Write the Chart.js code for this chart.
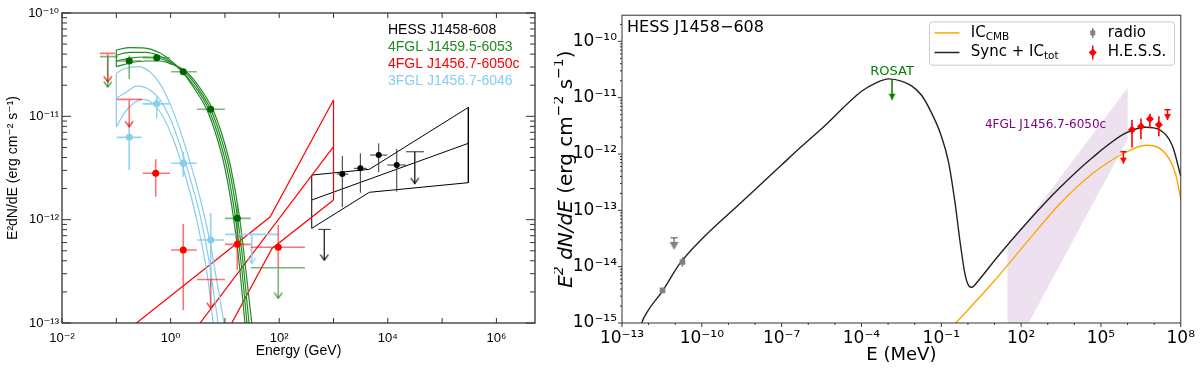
<!DOCTYPE html>
<html>
<head>
<meta charset="utf-8">
<script src="https://cdn.jsdelivr.net/npm/chart.js@4.4.1/dist/chart.umd.min.js"></script>
<style>
html,body{margin:0;padding:0;background:#fff;}
#wrap{position:relative;width:1200px;height:368px;overflow:hidden;}
#leftBox{position:absolute;left:0;top:0;width:554px;height:368px;}
#rightBox{position:absolute;left:554px;top:0;width:646px;height:368px;}
</style>
</head>
<body>
<div id="wrap">
  <div id="leftBox"><canvas id="fermiChart"></canvas></div>
  <div id="rightBox"><canvas id="modelChart"></canvas></div>
</div>
<script>

// ------------------------------
// Left panel data (E in GeV, E^2 dN/dE in erg cm^-2 s^-1)
// ------------------------------

const fermiEnergyTicks = [1e-2, 1e-1, 1e0, 1e1, 1e2, 1e3, 1e4, 1e5, 1e6];
const fermiFluxTicks = [1e-13, 1e-12, 1e-11, 1e-10];

// 4FGL J1459.5-6053 (green)
const g4E   = [0.173, 0.555, 1.71, 5.48, 16.9];
const g4F   = [3.43e-11, 3.69e-11, 2.70e-11, 1.17e-11, 1.03e-12];
const g4Elo = [0.103, 0.306, 1.02, 3.06, 10.0];
const g4Ehi = [0.285, 0.975, 3.03, 10.0, 29.9];
const g4Flo = [2.30e-11, 3.55e-11, 2.60e-11, 1.12e-11, 6.82e-13];
const g4Fhi = [3.88e-11, 3.83e-11, 2.80e-11, 1.22e-11, 1.42e-12];
const g4UlE   = [0.0695, 96];
const g4UlElo = [0.050, 29.9];
const g4UlEhi = [0.107, 298];
const g4UlF   = [3.78e-11, 3.42e-13];
const g4UlTip = [1.92e-11, 1.74e-13];

const g4CurveE1 = [0.1, 0.179, 0.338, 0.638, 0.975, 1.49, 2.70, 4.68, 7.16, 10.0, 14.1, 18.2, 23.4, 24.5];
const g4CurveF1 = [4.39e-11, 4.63e-11, 4.58e-11, 4.10e-11, 3.51e-11, 2.87e-11, 1.88e-11, 1.15e-11, 6.17e-12, 3.16e-12, 1.13e-12, 3.89e-13, 1.0e-13, 8e-14];
const g4CurveE2 = [0.1, 0.179, 0.338, 0.638, 0.975, 1.62, 2.94, 5.09, 7.78, 10.9, 15.3, 19.8, 25.5, 26.6];
const g4CurveF2 = [3.92e-11, 4.15e-11, 4.15e-11, 3.84e-11, 3.39e-11, 2.72e-11, 1.88e-11, 1.15e-11, 6.17e-12, 3.16e-12, 1.13e-12, 3.89e-13, 1.0e-13, 8e-14];
const g4CurveE3 = [0.1, 0.179, 0.338, 0.638, 0.975, 1.77, 3.20, 5.55, 8.47, 11.9, 16.7, 21.5, 27.8, 29.0];
const g4CurveF3 = [3.43e-11, 3.66e-11, 3.75e-11, 3.63e-11, 3.32e-11, 2.72e-11, 1.88e-11, 1.15e-11, 6.17e-12, 3.16e-12, 1.13e-12, 3.89e-13, 1.0e-13, 8e-14];
const g4CurveE4 = [0.1, 0.179, 0.338, 0.638, 0.975, 1.92, 3.48, 6.04, 9.23, 12.9, 18.2, 23.4, 31.2, 32.5];
const g4CurveF4 = [3.02e-11, 3.28e-11, 3.43e-11, 3.43e-11, 3.24e-11, 2.72e-11, 1.88e-11, 1.15e-11, 6.17e-12, 3.16e-12, 1.13e-12, 3.89e-13, 1.0e-13, 8e-14];

// 3FGL J1456.7-6046 (light blue)
const b3E   = [0.173, 0.555, 1.71, 5.48];
const b3F   = [6.26e-12, 1.32e-11, 3.51e-12, 6.35e-13];
const b3Elo = [0.102, 0.306, 1.02, 3.09];
const b3Ehi = [0.294, 0.975, 3.03, 9.62];
const b3Flo = [3.02e-12, 9.6e-12, 2.60e-12, 2.23e-13];
const b3Fhi = [8.81e-12, 1.55e-11, 4.54e-12, 1.16e-12];
const b3UlE   = [31.2];
const b3UlElo = [10.0];
const b3UlEhi = [96];
const b3UlF   = [7.21e-13];
const b3UlTip = [3.78e-13];

const b3CurveE1 = [0.1, 0.1445, 0.251, 0.418, 0.638, 0.975, 1.49, 2.28, 3.48, 5.32, 7.46, 9.62, 10.3];
const b3CurveF1 = [2.61e-11, 2.90e-11, 3.03e-11, 2.69e-11, 2.06e-11, 1.32e-11, 7.36e-12, 3.61e-12, 1.62e-12, 6.07e-13, 2.18e-13, 1.0e-13, 7.98e-14];
const b3CurveE2 = [0.1, 0.1445, 0.240, 0.418, 0.638, 0.975, 1.49, 2.28, 3.48, 4.89, 6.30, 7.46, 7.78];
const b3CurveF2 = [1.50e-11, 1.68e-11, 1.96e-11, 1.80e-11, 1.44e-11, 9.64e-12, 5.27e-12, 2.53e-12, 1.11e-12, 4.54e-13, 1.86e-13, 1.0e-13, 7.98e-14];
const b3CurveE3 = [0.1, 0.1445, 0.221, 0.310, 0.454, 0.695, 1.06, 1.62, 2.48, 3.63, 4.89, 6.04, 6.30];
const b3CurveF3 = [7.93e-12, 1.10e-11, 1.37e-11, 1.46e-11, 1.35e-11, 1.03e-11, 6.44e-12, 3.38e-12, 1.55e-12, 6.35e-13, 2.60e-13, 1.0e-13, 7.98e-14];

// 4FGL J1456.7-6050c (red)
const r4E   = [0.532, 1.71, 16.9, 96];
const r4F   = [2.81e-12, 5.08e-13, 5.77e-13, 5.40e-13];
const r4Elo = [0.306, 1.02, 10.0, 29.9];
const r4Ehi = [0.975, 3.03, 29.9, 298];
const r4Flo = [1.67e-12, 1.33e-13, 3.25e-13, 3.40e-13];
const r4Fhi = [3.84e-12, 9.06e-13, 7.59e-13, 8.87e-13];
const r4UlE   = [0.0695, 0.173, 5.48];
const r4UlElo = [0.050, 0.102, 3.06];
const r4UlEhi = [0.0946, 0.294, 10.0];
const r4UlF   = [4.07e-11, 1.46e-11, 2.64e-13];
const r4UlTip = [2.16e-11, 7.93e-12, 1.39e-13];

const r4BowUpE  = [0.1, 67.8, 1000];
const r4BowUpF  = [7.0e-14, 1.06e-12, 1.44e-11];
const r4BowMidE = [2.81, 1000];
const r4BowMidF = [8.6e-14, 5.08e-12];
const r4BowLoE  = [11.4, 73.6, 1000];
const r4BowLoF  = [8.55e-14, 5.27e-13, 1.55e-12];

// HESS J1458-608 (black)
const hessE   = [1452, 3119, 6792, 14590];
const hessF   = [2.76e-12, 3.14e-12, 4.22e-12, 3.38e-12];
const hessElo = [1146, 2388, 4699, 9795];
const hessEhi = [1875, 4083, 9795, 21630];
const hessFlo = [1.32e-12, 1.82e-12, 2.87e-12, 1.86e-12];
const hessFhi = [4.13e-12, 4.39e-12, 5.48e-12, 4.82e-12];
const hessUlE   = [678, 31260];
const hessUlElo = [525, 21630];
const hessUlEhi = [887, 46450];
const hessUlF   = [8.05e-13, 4.54e-12];
const hessUlTip = [4.06e-13, 2.24e-12];

const hessBowE    = [397, 4560, 304000];
const hessBowUpF  = [2.70e-12, 3.07e-12, 1.22e-11];
const hessBowLoF  = [8.24e-13, 1.84e-12, 2.28e-12];
const hessBowMidE = [397, 304000];
const hessBowMidF = [1.55e-12, 5.48e-12];

// ------------------------------
// Right panel data (E in MeV)
// ------------------------------

const modelEnergyTicks = [];
for (let e = -13; e <= 8; e++) modelEnergyTicks.push(Math.pow(10, e));
const modelFluxTicks = [1e-15, 1e-14, 1e-13, 1e-12, 1e-11, 1e-10];

const syncE = [4.32e-13, 5.46e-13, 9.64e-13, 3.33e-12, 1.48e-11, 9.59e-11, 3.01e-9, 9.44e-8, 5.66e-7, 3.40e-6, 1.01e-4, 3.38e-4, 1.06e-3, 3.34e-3, 7.91e-3, 1.87e-2, 4.43e-2, 9.12e-2, 0.187, 0.333, 0.512, 0.787, 1.11, 1.39, 2.47, 9.0, 158, 2818, 4.97e4, 8.73e5, 4.90e6, 1.55e7, 4.88e7, 1e8];
const syncF = [6.2e-16, 9.88e-16, 1.67e-15, 3.69e-15, 1.13e-14, 3.04e-14, 1.38e-13, 6.25e-13, 1.37e-12, 2.90e-12, 1.30e-11, 1.82e-11, 2.16e-11, 1.95e-11, 1.60e-11, 1.08e-11, 5.20e-12, 2.36e-12, 7.20e-13, 1.30e-13, 2.67e-14, 7.14e-15, 4.50e-15, 4.32e-15, 5.64e-15, 1.21e-14, 5.89e-14, 2.51e-13, 8.77e-13, 2.36e-12, 2.99e-12, 2.70e-12, 1.39e-12, 4.0e-13];

const icE = [0.187, 9.0, 158, 2818, 4.97e4, 6.56e5, 4.90e6, 2.74e7, 6.49e7, 1e8];
const icF = [7.3e-16, 5.33e-15, 2.67e-14, 1.30e-13, 4.55e-13, 1.00e-12, 1.43e-12, 1.00e-12, 4.26e-13, 1.58e-13];

const bandE = [30.8, 1.01e6, 1.01e6, 111, 30.8];
const bandF = [2.19e-14, 1.50e-11, 1.82e-12, 6.2e-16, 6.2e-16];

const radioE   = [3.33e-12, 1.87e-11];
const radioF   = [3.79e-15, 1.21e-14];
const radioFlo = [3.79e-15, 9.93e-15];
const radioFhi = [3.79e-15, 1.47e-14];
const radioUlE   = [9.06e-12];
const radioUlF   = [3.25e-14];
const radioUlTip = [2.34e-14];

const tevE   = [1.47e6, 3.18e6, 6.90e6, 1.50e7];
const tevF   = [2.70e-12, 3.08e-12, 4.17e-12, 3.29e-12];
const tevFlo = [1.30e-12, 1.82e-12, 2.88e-12, 2.07e-12];
const tevFhi = [4.01e-12, 4.28e-12, 5.20e-12, 4.70e-12];
const tevUlE   = [6.98e5, 3.17e7];
const tevUlF   = [1.10e-12, 6.10e-12];
const tevUlTip = [6.76e-13, 4.01e-12];

const rosatE   = [1.41e-3];
const rosatF   = [2.08e-11];
const rosatTip = [9.2e-12];

// ------------------------------
// Helpers
// ------------------------------

const SUP = {"-":"⁻","0":"⁰","1":"¹","2":"²","3":"³","4":"⁴","5":"⁵","6":"⁶","7":"⁷","8":"⁸","9":"⁹"};

function pow10Label(v){
    const e = Math.round(Math.log10(v));
    return "10" + String(e).split("").map(function(c){ return SUP[c]; }).join("");
}

function xy(E, F){
    return E.map(function(e, i){ return {x:e, y:F[i]}; });
}

function gap(){ return {x:NaN, y:NaN}; }

function errorSegments(E, F, Elo, Ehi, Flo, Fhi){
    const out = [];
    E.forEach(function(e, i){
        if(Elo){ out.push({x:Elo[i], y:F[i]}, {x:Ehi[i], y:F[i]}, gap()); }
        if(Flo){ out.push({x:e, y:Flo[i]}, {x:e, y:Fhi[i]}, gap()); }
    });
    return out;
}

function limitSegments(E, F, Elo, Ehi, Tip){
    const out = [];
    E.forEach(function(e, i){
        if(Elo){ out.push({x:Elo[i], y:F[i]}, {x:Ehi[i], y:F[i]}, gap()); }
        out.push({x:e, y:F[i]}, {x:e, y:Tip[i]}, gap());
    });
    return out;
}

// open "V" arrow head, tip at canvas centre
function openArrow(color){
    const c = document.createElement("canvas");
    c.width = 10; c.height = 14;
    const g = c.getContext("2d");
    g.strokeStyle = color; g.lineWidth = 1.2;
    g.beginPath(); g.moveTo(1, 1.5); g.lineTo(5, 7); g.lineTo(9, 1.5); g.stroke();
    return c;
}

// filled down arrow head, tip at canvas centre
function filledArrow(color, w, h, centred){
    const c = document.createElement("canvas");
    c.width = w + 2; c.height = 2 * h + 2;
    const g = c.getContext("2d");
    g.fillStyle = color;
    const top = centred ? h / 2 + 1 : 1;
    g.beginPath(); g.moveTo(1, top); g.lineTo(w + 1, top); g.lineTo(w / 2 + 1, top + h); g.closePath(); g.fill();
    return c;
}

function lineSet(data, color, width, smooth){
    return {
        data: data, showLine: true, borderColor: color, borderWidth: width,
        pointRadius: 0, spanGaps: false,
        tension: smooth ? 0.4 : 0,
        cubicInterpolationMode: smooth ? "monotone" : "default"
    };
}

function markerSet(data, color, style, radius){
    return {
        data: data, showLine: false, pointStyle: style, pointRadius: radius,
        backgroundColor: color, borderColor: color, borderWidth: 0
    };
}

function imageSet(data, img){
    return { data: data, showLine: false, pointStyle: img, pointRadius: 5 };
}

const SANS = "'Liberation Sans', Arial, 'DejaVu Sans', sans-serif";
const DEJA = "'DejaVu Sans', sans-serif";

const GREEN = "#228b22";
const GREEN_DOT = "#006400";
const GREEN_BAR = "rgba(34,139,34,0.6)";
const RED = "#ff0000";
const RED_BAR = "rgba(255,0,0,0.55)";
const SKY = "#87ceeb";
const SKY_BAR = "rgba(135,206,235,0.9)";

// ------------------------------
// Left panel: frame, inside ticks, legend
// ------------------------------

const fermiFrame = {
    id: "fermiFrame",
    afterDraw: function(chart){
        const ctx = chart.ctx, ca = chart.chartArea;
        const xs = chart.scales.x, ys = chart.scales.y;
        ctx.save();
        ctx.strokeStyle = "#333"; ctx.lineWidth = 1.3;
        ctx.strokeRect(ca.left, ca.top, ca.right - ca.left, ca.bottom - ca.top);
        ctx.lineWidth = 1;
        ctx.beginPath();
        fermiEnergyTicks.forEach(function(v){
            const px = xs.getPixelForValue(v);
            ctx.moveTo(px, ca.bottom); ctx.lineTo(px, ca.bottom - 5);
            ctx.moveTo(px, ca.top); ctx.lineTo(px, ca.top + 5);
        });
        for(let e = -13; e <= -10; e++){
            for(let m = 1; m < 10; m++){
                const v = m * Math.pow(10, e);
                if(v > ys.max * 1.0001) continue;
                const py = ys.getPixelForValue(v);
                const len = m === 1 ? 9 : 5;
                ctx.moveTo(ca.left, py); ctx.lineTo(ca.left + len, py);
                ctx.moveTo(ca.right, py); ctx.lineTo(ca.right - len, py);
            }
        }
        ctx.stroke();

        const names = ["HESS J1458-608", "4FGL J1459.5-6053", "4FGL J1456.7-6050c", "3FGL J1456.7-6046"];
        const colors = ["#000000", GREEN, RED, SKY];
        ctx.font = "14px " + SANS;
        ctx.textAlign = "left"; ctx.textBaseline = "middle";
        names.forEach(function(n, i){
            ctx.fillStyle = colors[i];
            ctx.fillText(n, ca.left + 326, ca.top + 17 + i * 17.2);
        });
        ctx.restore();
    }
};

const arrowGreen = openArrow(GREEN);
const arrowRed = openArrow(RED);
const arrowSky = openArrow(SKY);
const arrowBlack = openArrow("#000");

const fermiDatasets = [
    // markers on top
    markerSet(xy(g4E, g4F), GREEN_DOT, "circle", 3.5),
    markerSet(xy(r4E, r4F), RED, "circle", 3.5),
    markerSet(xy(b3E, b3F), SKY, "circle", 3.5),
    markerSet(xy(hessE, hessF), "#000", "circle", 3),

    // upper limit heads
    imageSet(xy(g4UlE, g4UlTip), arrowGreen),
    imageSet(xy(r4UlE, r4UlTip), arrowRed),
    imageSet(xy(b3UlE, b3UlTip), arrowSky),
    imageSet(xy(hessUlE, hessUlTip), arrowBlack),

    // error bars and limits
    lineSet(errorSegments(g4E, g4F, g4Elo, g4Ehi, g4Flo, g4Fhi), GREEN_BAR, 1.6, false),
    lineSet(limitSegments(g4UlE, g4UlF, g4UlElo, g4UlEhi, g4UlTip), GREEN_BAR, 1.6, false),
    lineSet(errorSegments(r4E, r4F, r4Elo, r4Ehi, r4Flo, r4Fhi), RED_BAR, 1.6, false),
    lineSet(limitSegments(r4UlE, r4UlF, r4UlElo, r4UlEhi, r4UlTip), RED_BAR, 1.6, false),
    lineSet(errorSegments(b3E, b3F, b3Elo, b3Ehi, b3Flo, b3Fhi), SKY_BAR, 1.6, false),
    lineSet(limitSegments(b3UlE, b3UlF, b3UlElo, b3UlEhi, b3UlTip), SKY_BAR, 1.6, false),
    lineSet(errorSegments(hessE, hessF, hessElo, hessEhi, hessFlo, hessFhi), "#333", 1, false),
    lineSet(limitSegments(hessUlE, hessUlF, hessUlElo, hessUlEhi, hessUlTip), "#333", 1, false),

    // spectral models
    lineSet(xy(g4CurveE1, g4CurveF1), GREEN, 1.2, true),
    lineSet(xy(g4CurveE2, g4CurveF2), GREEN, 1.2, true),
    lineSet(xy(g4CurveE3, g4CurveF3), GREEN, 1.2, true),
    lineSet(xy(g4CurveE4, g4CurveF4), GREEN, 1.2, true),
    lineSet([{x:g4CurveE1[0], y:g4CurveF1[0]}, {x:g4CurveE4[0], y:g4CurveF4[0]}], GREEN, 1.2, false),

    lineSet(xy(b3CurveE1, b3CurveF1), SKY, 1.2, true),
    lineSet(xy(b3CurveE2, b3CurveF2), SKY, 1.2, true),
    lineSet(xy(b3CurveE3, b3CurveF3), SKY, 1.2, true),
    lineSet([{x:b3CurveE1[0], y:b3CurveF1[0]}, {x:b3CurveE3[0], y:b3CurveF3[0]}], SKY, 1.2, false),

    lineSet(xy(r4BowUpE, r4BowUpF), RED, 1.2, false),
    lineSet(xy(r4BowMidE, r4BowMidF), RED, 1.2, false),
    lineSet(xy(r4BowLoE, r4BowLoF), RED, 1.2, false),
    lineSet([{x:r4BowUpE[2], y:r4BowUpF[2]}, {x:r4BowLoE[2], y:r4BowLoF[2]}], RED, 1.2, false),

    lineSet(xy(hessBowE, hessBowUpF).concat(xy(hessBowE, hessBowLoF).reverse(), [{x:hessBowE[0], y:hessBowUpF[0]}]), "#000", 1, false),
    lineSet(xy(hessBowMidE, hessBowMidF), "#000", 1, false)
];

new Chart(document.getElementById("fermiChart"), {
    type: "scatter",
    data: { datasets: fermiDatasets },
    options: {
        responsive: true,
        maintainAspectRatio: false,
        animation: false,
        layout: { padding: { top: 13, right: 19, left: 0, bottom: 0 } },
        plugins: { legend: { display: false }, tooltip: { enabled: false } },
        scales: {
            x: {
                type: "logarithmic", min: 1e-2, max: 5.13e6, bounds: "data",
                afterBuildTicks: function(s){ s.ticks = fermiEnergyTicks.map(function(v){ return {value:v}; }); },
                afterFit: function(s){ s.height = 45; },
                grid: { display: false, drawTicks: false },
                border: { display: false },
                ticks: {
                    autoSkip: false, maxRotation: 0, minRotation: 0, padding: 8, color: "#000",
                    font: { family: SANS, size: 13 },
                    callback: function(v){
                        const e = Math.round(Math.log10(v));
                        return e % 2 === 0 ? pow10Label(v) : "";
                    }
                },
                title: { display: true, text: "Energy (GeV)", color: "#000",
                         font: { family: SANS, size: 14 }, padding: { top: 0, bottom: 8 } }
            },
            y: {
                type: "logarithmic", min: 1e-13, max: 1e-10, bounds: "data",
                afterBuildTicks: function(s){ s.ticks = fermiFluxTicks.map(function(v){ return {value:v}; }); },
                afterFit: function(s){ s.width = 62; },
                grid: { display: false, drawTicks: false },
                border: { display: false },
                ticks: {
                    autoSkip: false, padding: 3, color: "#000",
                    font: { family: SANS, size: 13 },
                    callback: function(v){ return pow10Label(v); }
                },
                title: { display: true, text: "E²dN/dE (erg cm⁻² s⁻¹)", color: "#000",
                         font: { family: SANS, size: 14 }, padding: { top: 5, bottom: 0 } }
            }
        }
    },
    plugins: [fermiFrame]
});

// ------------------------------
// Right panel: frame, outside ticks, legend and labels
// ------------------------------

function subText(ctx, x, y, main, sub, size){
    ctx.font = size + "px " + DEJA;
    ctx.fillText(main, x, y);
    const w = ctx.measureText(main).width;
    ctx.font = (size * 0.7) + "px " + DEJA;
    ctx.fillText(sub, x + w, y + size * 0.28);
}

// y axis title with math-style pieces: [text, italic, superscript]
const modelYTitle = [
    ["E", true, false], ["2", true, true], [" dN/dE", true, false],
    [" (erg cm", false, false], ["−2", false, true], [" s", false, false],
    ["−1", false, true], [")", false, false]
];

function drawYTitle(ctx, cx, cy, size){
    ctx.save();
    ctx.translate(cx, cy);
    ctx.rotate(-Math.PI / 2);
    ctx.textBaseline = "middle"; ctx.textAlign = "left";
    ctx.fillStyle = "#000";
    function fontFor(p){
        return (p[1] ? "italic " : "") + (p[2] ? size * 0.7 : size) + "px " + DEJA;
    }
    let total = 0;
    modelYTitle.forEach(function(p){ ctx.font = fontFor(p); total += ctx.measureText(p[0]).width; });
    let x = -total / 2;
    modelYTitle.forEach(function(p){
        ctx.font = fontFor(p);
        ctx.fillText(p[0], x, p[2] ? -size * 0.38 : 0);
        x += ctx.measureText(p[0]).width;
    });
    ctx.restore();
}

const modelFrame = {
    id: "modelFrame",
    afterDraw: function(chart){
        const ctx = chart.ctx, ca = chart.chartArea;
        const xs = chart.scales.x, ys = chart.scales.y;
        ctx.save();
        ctx.strokeStyle = "#333"; ctx.lineWidth = 1;
        ctx.strokeRect(ca.left, ca.top, ca.right - ca.left, ca.bottom - ca.top);
        ctx.beginPath();
        modelEnergyTicks.forEach(function(v){
            const e = Math.round(Math.log10(v));
            const px = xs.getPixelForValue(v);
            const len = (e + 13) % 3 === 0 ? 4 : 2;
            ctx.moveTo(px, ca.bottom); ctx.lineTo(px, ca.bottom + len);
        });
        for(let e = -15; e <= -10; e++){
            for(let m = 1; m < 10; m++){
                const v = m * Math.pow(10, e);
                if(v > ys.max) continue;
                const py = ys.getPixelForValue(v);
                const len = m === 1 ? 4 : 2;
                ctx.moveTo(ca.left, py); ctx.lineTo(ca.left - len, py);
            }
        }
        ctx.stroke();

        drawYTitle(ctx, 13, (ca.top + ca.bottom) / 2, 20);

        // source name
        ctx.fillStyle = "#000";
        ctx.textAlign = "left"; ctx.textBaseline = "middle";
        ctx.font = "16px " + DEJA;
        ctx.fillText("HESS J1458−608", ca.left + 5, ca.top + 12.5);

        // ROSAT and 4FGL labels
        ctx.textAlign = "center";
        ctx.fillStyle = "#008000";
        ctx.font = "13px " + DEJA;
        ctx.fillText("ROSAT", xs.getPixelForValue(1.41e-3), ys.getPixelForValue(2.93e-11));
        ctx.fillStyle = "#800080";
        ctx.font = "12px " + DEJA;
        ctx.fillText("4FGL J1456.7-6050c", xs.getPixelForValue(828), ys.getPixelForValue(3.33e-12));

        // legend box
        const bx = ca.right - 251.3, by = ca.top + 6.7, bw = 245, bh = 43.3;
        ctx.fillStyle = "rgba(255,255,255,0.85)";
        ctx.strokeStyle = "#cccccc"; ctx.lineWidth = 1;
        ctx.beginPath();
        ctx.roundRect(bx, by, bw, bh, 3);
        ctx.fill(); ctx.stroke();

        const row1 = by + 11, row2 = by + 30.6;
        ctx.lineWidth = 1.5;
        ctx.strokeStyle = "#ffa500";
        ctx.beginPath(); ctx.moveTo(bx + 5, row1); ctx.lineTo(bx + 30, row1); ctx.stroke();
        ctx.strokeStyle = "#222";
        ctx.beginPath(); ctx.moveTo(bx + 5, row2); ctx.lineTo(bx + 30, row2); ctx.stroke();

        ctx.textAlign = "left"; ctx.fillStyle = "#000";
        subText(ctx, bx + 41.3, row1, "IC", "CMB", 15);
        subText(ctx, bx + 41.3, row2, "Sync + IC", "tot", 15);

        const mx = bx + 163.3;
        ctx.strokeStyle = "#808080"; ctx.lineWidth = 1.5;
        ctx.beginPath(); ctx.moveTo(mx, row1 - 5); ctx.lineTo(mx, row1 + 5); ctx.stroke();
        ctx.fillStyle = "#808080";
        ctx.fillRect(mx - 2.5, row1 - 2.5, 5, 5);
        ctx.strokeStyle = RED;
        ctx.beginPath(); ctx.moveTo(mx, row2 - 7); ctx.lineTo(mx, row2 + 7); ctx.stroke();
        ctx.fillStyle = RED;
        ctx.beginPath();
        ctx.moveTo(mx, row2 - 4); ctx.lineTo(mx + 4, row2); ctx.lineTo(mx, row2 + 4); ctx.lineTo(mx - 4, row2);
        ctx.closePath(); ctx.fill();

        ctx.fillStyle = "#000";
        ctx.font = "15px " + DEJA;
        ctx.fillText("radio", bx + 178.3, row1);
        ctx.fillText("H.E.S.S.", bx + 178.3, row2);
        ctx.restore();
    }
};

const redCaret = filledArrow(RED, 7, 6, false);
const greenCaret = filledArrow("#008000", 7, 6, false);
const greyTriangle = filledArrow("#808080", 9, 8, true);

const modelDatasets = [
    markerSet(xy(tevE, tevF), RED, "rectRot", 4),
    lineSet(errorSegments(tevE, tevF, null, null, tevFlo, tevFhi), RED, 1.6, false),
    { data: xy(tevUlE, tevUlF), showLine: false, pointStyle: "line", pointRadius: 3,
      borderColor: RED, borderWidth: 1.5 },
    imageSet(xy(tevUlE, tevUlTip), redCaret),
    lineSet(limitSegments(tevUlE, tevUlF, null, null, tevUlTip), RED, 1.5, false),

    markerSet(xy(radioE, radioF), "#808080", "rect", 4),
    lineSet(errorSegments(radioE, radioF, null, null, radioFlo, radioFhi), "#808080", 1.5, false),
    { data: xy(radioUlE, radioUlF), showLine: false, pointStyle: "line", pointRadius: 3.5,
      borderColor: "#808080", borderWidth: 1.5 },
    imageSet(xy(radioUlE, radioUlTip), greyTriangle),
    lineSet(limitSegments(radioUlE, radioUlF, null, null, radioUlTip), "#808080", 1.5, false),

    imageSet(xy(rosatE, rosatTip), greenCaret),
    lineSet(limitSegments(rosatE, rosatF, null, null, rosatTip), "#008000", 1.5, false),

    lineSet(xy(syncE, syncF), "#222", 1.4, true),
    lineSet(xy(icE, icF), "#ffa500", 1.4, true),

    { data: xy(bandE, bandF), showLine: true, borderWidth: 0, pointRadius: 0,
      fill: "shape", backgroundColor: "#eee1ef", tension: 0 }
];

new Chart(document.getElementById("modelChart"), {
    type: "scatter",
    data: { datasets: modelDatasets },
    options: {
        responsive: true,
        maintainAspectRatio: false,
        animation: false,
        layout: { padding: { top: 5, right: 17, left: 0, bottom: 0 } },
        plugins: { legend: { display: false }, tooltip: { enabled: false } },
        scales: {
            x: {
                type: "logarithmic", min: 1e-13, max: 1e8, bounds: "data",
                afterBuildTicks: function(s){ s.ticks = modelEnergyTicks.map(function(v){ return {value:v}; }); },
                afterFit: function(s){ s.height = 45; },
                grid: { display: false, drawTicks: false },
                border: { display: false },
                ticks: {
                    autoSkip: false, maxRotation: 0, minRotation: 0, padding: 5, color: "#000",
                    font: { family: DEJA, size: 17 },
                    callback: function(v){
                        const e = Math.round(Math.log10(v));
                        return (e + 13) % 3 === 0 ? pow10Label(v) : "";
                    }
                },
                title: { display: true, text: "E (MeV)", color: "#000",
                         font: { family: DEJA, size: 18, lineHeight: 1 }, padding: { top: 0, bottom: 4 } }
            },
            y: {
                type: "logarithmic", min: 1e-15, max: 2.91e-10, bounds: "data",
                afterBuildTicks: function(s){ s.ticks = modelFluxTicks.map(function(v){ return {value:v}; }); },
                afterFit: function(s){ s.width = 68; },
                grid: { display: false, drawTicks: false },
                border: { display: false },
                ticks: {
                    autoSkip: false, padding: 5, color: "#000",
                    font: { family: DEJA, size: 17 },
                    callback: function(v){ return pow10Label(v); }
                }
            }
        }
    },
    plugins: [modelFrame]
});

</script>
</body>
</html>
